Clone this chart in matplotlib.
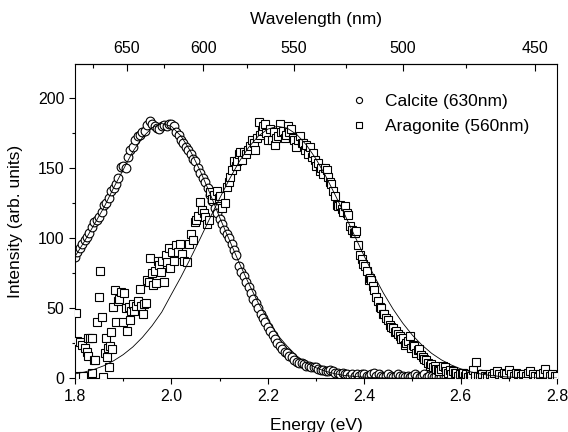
import matplotlib
matplotlib.use("Agg")
import matplotlib.pyplot as plt
import numpy as np

plt.rcParams['font.family'] = ['Liberation Sans', 'DejaVu Sans']

# ---- Calcite data (energy eV, intensity) ----
calcite_E = [
    1.800, 1.805, 1.810, 1.815, 1.820, 1.825, 1.830, 1.835, 1.840, 1.845,
    1.850, 1.855, 1.860, 1.865, 1.870, 1.875, 1.880, 1.885, 1.890, 1.895,
    1.900, 1.905, 1.910, 1.915, 1.920, 1.925, 1.930, 1.935, 1.940, 1.945,
    1.950, 1.955, 1.960, 1.965, 1.970, 1.975, 1.980, 1.985, 1.990, 1.995,
    2.000, 2.005, 2.010, 2.015, 2.020, 2.025, 2.030, 2.035, 2.040, 2.045,
    2.050, 2.055, 2.060, 2.065, 2.070, 2.075, 2.080, 2.085, 2.090, 2.095,
    2.100, 2.105, 2.110, 2.115, 2.120, 2.125, 2.130, 2.135, 2.140, 2.145,
    2.150, 2.155, 2.160, 2.165, 2.170, 2.175, 2.180, 2.185, 2.190, 2.195,
    2.200, 2.205, 2.210, 2.215, 2.220, 2.225, 2.230, 2.235, 2.240, 2.245,
    2.250, 2.255, 2.260, 2.265, 2.270, 2.275, 2.280, 2.285, 2.290, 2.295,
    2.300, 2.305, 2.310, 2.315, 2.320, 2.325, 2.330, 2.335, 2.340, 2.345,
    2.350, 2.355, 2.360, 2.365, 2.370, 2.375, 2.380, 2.385, 2.390, 2.395,
    2.400, 2.405, 2.410, 2.415, 2.420, 2.425, 2.430, 2.435, 2.440, 2.445,
    2.450, 2.455, 2.460, 2.465, 2.470, 2.475, 2.480, 2.485, 2.490, 2.495,
    2.500, 2.505, 2.510, 2.515, 2.520, 2.525, 2.530, 2.535, 2.540, 2.545,
    2.550, 2.555, 2.560, 2.565, 2.570, 2.575, 2.580, 2.585, 2.590, 2.595,
    2.600, 2.605, 2.610, 2.615, 2.620, 2.625, 2.630, 2.635, 2.640, 2.645,
    2.650, 2.655, 2.660, 2.665, 2.670, 2.675, 2.680, 2.685, 2.690, 2.695,
    2.700, 2.705, 2.710, 2.715, 2.720, 2.725, 2.730, 2.735, 2.740, 2.745,
    2.750, 2.755, 2.760, 2.765, 2.770, 2.775, 2.780, 2.785, 2.790, 2.795,
    2.800,
]
calcite_I = [
    87, 90, 93, 96, 99, 101, 104, 108, 112, 113,
    115, 119, 124, 125, 129, 134, 136, 139, 143, 151,
    152, 150, 158, 163, 165, 170, 173, 174, 176, 177,
    181, 184, 182, 180, 179, 178, 180, 181, 180, 182,
    182, 180, 176, 174, 170, 168, 165, 163, 160, 157,
    155, 150, 147, 143, 140, 136, 131, 127, 122, 118,
    114, 110, 106, 103, 100, 96, 92, 88, 80, 76,
    73, 69, 65, 61, 57, 54, 50, 46, 43, 40,
    37, 34, 31, 28, 25, 23, 21, 19, 18, 16,
    15, 13, 12, 11, 11, 10, 9, 9, 8, 8,
    8, 7, 6, 6, 5, 5, 6, 5, 4, 4,
    3, 4, 3, 3, 2, 3, 2, 3, 2, 3,
    3, 2, 2, 3, 4, 2, 3, 2, 1, 2,
    3, 2, 1, 2, 3, 2, 2, 1, 2, 1,
    2, 3, 2, 1, 2, 3, 1, 2, 2, 1,
    2, 1, 1, 2, 1, 2, 1, 1, 2, 1,
    1, 2, 1, 1, 2, 1, 1, 2, 3, 2,
    1, 1, 2, 1, 1, 2, 1, 1, 2, 1,
    1, 1, 2, 1, 1, 1, 2, 1, 1, 2,
    1, 1, 1, 2, 1, 1, 1, 2, 1, 1,
    1,
]

# ---- Aragonite data ----
aragonite_E = [
    1.803, 1.805, 1.808, 1.811, 1.815, 1.817, 1.821, 1.824, 1.826, 1.828,
    1.832, 1.835, 1.836, 1.839, 1.842, 1.845, 1.849, 1.852, 1.856, 1.859,
    1.863, 1.864, 1.866, 1.868, 1.870, 1.872, 1.875, 1.877, 1.879, 1.882,
    1.886, 1.889, 1.891, 1.895, 1.899, 1.902, 1.905, 1.908, 1.911, 1.914,
    1.917, 1.920, 1.923, 1.927, 1.931, 1.934, 1.937, 1.941, 1.944, 1.947,
    1.950, 1.953, 1.956, 1.959, 1.962, 1.966, 1.969, 1.972, 1.975, 1.978,
    1.981, 1.984, 1.988, 1.991, 1.995, 1.998, 2.002, 2.006, 2.010, 2.014,
    2.018, 2.022, 2.027, 2.032, 2.036, 2.040, 2.044, 2.048, 2.052, 2.056,
    2.059, 2.063, 2.067, 2.070, 2.074, 2.078, 2.081, 2.085, 2.089, 2.094,
    2.098, 2.101, 2.106, 2.111, 2.115, 2.119, 2.122, 2.126, 2.129, 2.133,
    2.136, 2.140, 2.143, 2.147, 2.151, 2.155, 2.159, 2.163, 2.167, 2.171,
    2.174, 2.178, 2.181, 2.184, 2.188, 2.191, 2.194, 2.197, 2.201, 2.204,
    2.208, 2.212, 2.215, 2.218, 2.221, 2.225, 2.228, 2.232, 2.235, 2.238,
    2.242, 2.245, 2.249, 2.252, 2.255, 2.259, 2.262, 2.266, 2.270, 2.273,
    2.277, 2.280, 2.284, 2.287, 2.291, 2.294, 2.298, 2.301, 2.305, 2.308,
    2.311, 2.315, 2.318, 2.322, 2.325, 2.329, 2.332, 2.336, 2.339, 2.343,
    2.346, 2.350, 2.353, 2.357, 2.360, 2.364, 2.367, 2.371, 2.374, 2.378,
    2.381, 2.384, 2.388, 2.391, 2.395, 2.398, 2.402, 2.405, 2.409, 2.412,
    2.415, 2.418, 2.421, 2.425, 2.428, 2.432, 2.435, 2.439, 2.442, 2.446,
    2.449, 2.453, 2.456, 2.460, 2.463, 2.467, 2.470, 2.474, 2.477, 2.480,
    2.484, 2.487, 2.491, 2.494, 2.497, 2.501, 2.504, 2.508, 2.511, 2.514,
    2.518, 2.521, 2.525, 2.529, 2.532, 2.536, 2.539, 2.543, 2.546, 2.549,
    2.553, 2.556, 2.560, 2.563, 2.567, 2.570, 2.574, 2.577, 2.581, 2.584,
    2.588, 2.591, 2.595, 2.598, 2.602, 2.605, 2.609, 2.612, 2.616, 2.619,
    2.622, 2.625, 2.629, 2.632, 2.636, 2.640, 2.645, 2.650, 2.655, 2.660,
    2.665, 2.670, 2.675, 2.680, 2.685, 2.690, 2.695, 2.700, 2.705, 2.710,
    2.715, 2.720, 2.725, 2.730, 2.735, 2.740, 2.745, 2.750, 2.755, 2.760,
    2.765, 2.770, 2.775, 2.780, 2.785, 2.790, 2.795, 2.800,
]
aragonite_I = [
    47, 27, 2, 26, 24, 2, 22, 19, 29, 16,
    29, 29, 4, 13, 13, 40, 58, 77, 44, 1,
    18, 29, 15, 22, 8, 23, 33, 21, 51, 63,
    40, 55, 57, 62, 40, 61, 50, 34, 51, 42,
    48, 53, 48, 52, 55, 64, 52, 46, 53, 54,
    70, 69, 86, 75, 67, 77, 68, 84, 81, 76,
    84, 69, 88, 83, 93, 79, 90, 84, 95, 90,
    96, 89, 84, 83, 96, 103, 99, 112, 113, 116,
    126, 120, 118, 115, 110, 113, 133, 128, 131, 134,
    129, 130, 122, 125, 137, 140, 144, 149, 155, 152,
    155, 160, 162, 156, 162, 160, 163, 166, 170, 168,
    163, 172, 183, 174, 177, 180, 182, 175, 170, 178,
    170, 176, 167, 172, 173, 182, 176, 177, 172, 174,
    180, 176, 178, 172, 170, 165, 170, 173, 168, 168,
    163, 167, 160, 165, 158, 161, 156, 152, 154, 148,
    150, 146, 150, 149, 144, 140, 139, 134, 130, 124,
    123, 124, 121, 119, 123, 118, 117, 109, 106, 104,
    104, 105, 95, 88, 85, 82, 80, 77, 70, 72,
    70, 66, 63, 58, 55, 51, 50, 46, 46, 43,
    42, 38, 37, 36, 33, 34, 32, 30, 28, 29,
    24, 25, 27, 30, 22, 24, 23, 18, 20, 21,
    17, 15, 14, 13, 11, 9, 10, 8, 9, 7,
    6, 5, 7, 9, 8, 5, 4, 6, 3, 5,
    4, 4, 2, 3, 4, 4, 2, 3, 1, 3,
    2, 6, 2, 12, 2, 1, 3, 2, 1, 3,
    2, 4, 5, 3, 2, 4, 3, 6, 3, 2,
    4, 3, 2, 3, 2, 4, 5, 3, 2, 1,
    3, 4, 7, 3, 2, 3, 2, 2,
]

# ---- Fit curves ----
fit_E = [
    1.80, 1.82, 1.84, 1.86, 1.88, 1.90, 1.92, 1.94, 1.96, 1.98,
    2.00, 2.02, 2.04, 2.06, 2.08, 2.10, 2.12, 2.14, 2.16, 2.18,
    2.20, 2.22, 2.24, 2.26, 2.28, 2.30, 2.32, 2.34, 2.36, 2.38,
    2.40, 2.42, 2.44, 2.46, 2.48, 2.50, 2.52, 2.54, 2.56, 2.58,
    2.60, 2.62, 2.64, 2.66, 2.68, 2.70, 2.72, 2.74, 2.76, 2.78,
    2.80,
]
calcite_fit = [
    87, 98, 110, 122, 136, 149, 162, 172, 179, 182,
    180, 173, 162, 148, 132, 115, 99, 83, 68, 54,
    42, 31, 23, 16, 11, 7.5, 5, 3.2, 2, 1.3,
    0.8, 0.5, 0.3, 0.2, 0.1, 0.1, 0.05, 0, 0, 0,
    0, 0, 0, 0, 0, 0, 0, 0, 0, 0,
    0,
]
aragonite_fit = [
    3.1, 4.5, 6.4, 9.0, 12.5, 16.9, 22.4, 29.3, 37.6, 47.3,
    60.0, 72.5, 86.0, 100.0, 114.5, 128.5, 142.0, 154.4, 164.9, 172.9,
    178.0, 180.0, 178.7, 174.2, 166.7, 156.7, 144.5, 130.8, 116.6, 101.9,
    87.3, 73.5, 60.8, 49.4, 39.4, 30.8, 23.7, 17.8, 13.2, 9.6,
    6.8, 4.7, 3.2, 2.1, 1.4, 0.9, 0.6, 0.35, 0.2, 0.1,
    0.07,
]

series_labels = ["Calcite (630nm)", "Aragonite (560nm)"]
wl_major = [650, 600, 550, 500, 450]
wl_minor = [675, 625, 575, 525, 475]

fig = plt.figure(figsize=(5.68, 4.32), dpi=100)
ax = fig.add_axes([75 / 568, 1 - 378.3 / 432, (557 - 75) / 568, (378.3 - 64) / 432])

ax.plot(calcite_E, calcite_I, linestyle='none', marker='o', markersize=6.3,
        markerfacecolor='white', markeredgecolor='black', markeredgewidth=0.8,
        label=series_labels[0], zorder=2)
ax.plot(aragonite_E, aragonite_I, linestyle='none', marker='s', markersize=6.0,
        markerfacecolor='white', markeredgecolor='black', markeredgewidth=0.8,
        label=series_labels[1], zorder=3)
ax.plot(fit_E, calcite_fit, color='black', linewidth=0.6, zorder=4)
ax.plot(fit_E, aragonite_fit, color='black', linewidth=0.6, zorder=4)

ax.set_xlim(1.8, 2.8)
ax.set_ylim(0, 224.5)
ax.set_xticks([1.8, 2.0, 2.2, 2.4, 2.6, 2.8])
ax.set_xticks([1.9, 2.1, 2.3, 2.5, 2.7], minor=True)
ax.set_yticks([0, 50, 100, 150, 200])
ax.set_yticks([25, 75, 125, 175], minor=True)
ax.tick_params(axis='both', which='major', direction='out', length=4, width=0.8,
               labelsize=11.5, top=False, right=False)
ax.tick_params(axis='both', which='minor', direction='out', length=2.5, width=0.8,
               top=False, right=False)
ax.set_xlabel("Energy (eV)", fontsize=12.5, labelpad=10)
ax.set_ylabel("Intensity (arb. units)", fontsize=12.5, labelpad=11)
for s in ax.spines.values():
    s.set_linewidth(0.8)

secax = ax.secondary_xaxis('top', functions=(lambda e: 1239.84 / e, lambda w: 1239.84 / w))
secax.set_xticks(wl_major)
secax.set_xticks(wl_minor, minor=True)
secax.tick_params(axis='x', which='major', direction='in', length=5, width=0.8,
                  labelsize=11.5, pad=6)
secax.tick_params(axis='x', which='minor', direction='in', length=3, width=0.8)
secax.set_xlabel("Wavelength (nm)", fontsize=12.5, labelpad=12)

ax.legend(loc='upper left', bbox_to_anchor=(0.535, 0.955), frameon=False,
          handlelength=1.2, handletextpad=0.9, markerscale=0.7,
          fontsize=12.5, labelspacing=0.55)

fig.savefig("out.png", dpi=100)
